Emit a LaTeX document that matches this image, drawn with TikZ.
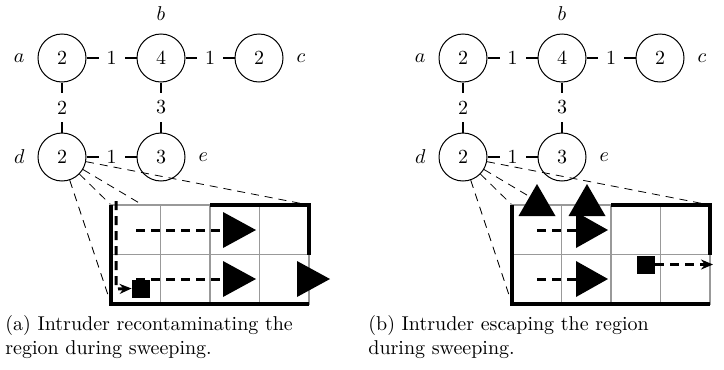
\documentclass[tikz,border=0pt]{standalone}
\usetikzlibrary{arrows.meta}
\tikzset{
  vtx/.style={circle,draw,line width=0.5pt,minimum size=24pt,inner sep=0pt},
  edgeln/.style={line width=0.8pt},
  elab/.style={fill=white,inner sep=4pt},
  celln/.style={draw=black!40,line width=0.7pt},
  wallln/.style={line width=1.6pt},
  sweepln/.style={line width=1.5pt,dash pattern=on 4.5pt off 3pt},
  zoomln/.style={line width=0.4pt,dash pattern=on 4pt off 3pt},
  tri/.style={fill=black},
  intruder/.style={fill=black,minimum size=9pt,inner sep=0pt},
  lbl/.style={label distance=3pt},
  captxt/.style={anchor=north west,inner sep=0pt},
}
\newcommand{\mygraph}[2]{%
  \begin{scope}[shift={(#2,0)}]
    \node[vtx,label={[lbl]left:$a$}]  (a#1) at (62,58)   {2};
    \node[vtx,label={[lbl]above:$b$}] (b#1) at (161,58)  {4};
    \node[vtx,label={[lbl]right:$c$}] (c#1) at (259,58)  {2};
    \node[vtx,label={[lbl]left:$d$}]  (d#1) at (62,157)  {2};
    \node[vtx,label={[lbl]right:$e$}] (e#1) at (161,157) {3};
    \draw[edgeln] (a#1) -- node[elab]{1} (b#1);
    \draw[edgeln] (b#1) -- node[elab]{1} (c#1);
    \draw[edgeln] (a#1) -- node[elab]{2} (d#1);
    \draw[edgeln] (b#1) -- node[elab]{3} (e#1);
    \draw[edgeln] (d#1) -- node[elab]{1} (e#1);
    \coordinate (tl#1) at (111,205);
    \coordinate (tr#1) at (309,205);
    \coordinate (bl#1) at (111,304);
    \coordinate (br#1) at (309,304);
    \draw[zoomln] (d#1) -- (tl#1);
    \draw[zoomln] (d#1) -- (tr#1);
    \draw[zoomln] (d#1) -- (bl#1);
    \draw[zoomln] (d#1) -- (br#1);
    \fill[white] (tl#1) rectangle (br#1);
    \foreach \xx in {160.5,210,259.5} \draw[celln] (\xx,205) -- (\xx,304);
    \draw[celln] (111,254.5) -- (309,254.5);
    \draw[celln] (tl#1) rectangle (br#1);
    \draw[wallln] (tl#1) -- (bl#1) -- (br#1);
    \draw[wallln] (210,205) -- (tr#1) -- (309,254.5);
  \end{scope}}
\begin{document}
\begin{tikzpicture}[x=0.5pt,y=-0.5pt]
  \useasboundingbox (0,0) rectangle (724,370);
  \mygraph{A}{0}
  \mygraph{B}{401}
  % panel (a)
  \draw[sweepln] (136,230) -- (223,230);
  \draw[sweepln] (136,279) -- (223,279);
  \fill[tri] (223,212) -- (256,230) -- (223,248) -- cycle;
  \fill[tri] (223,261) -- (256,279) -- (223,297) -- cycle;
  \fill[tri] (297,261) -- (330,279) -- (297,297) -- cycle;
  \node[intruder] (iA) at (141,288.5) {};
  \draw[sweepln,-{Stealth[length=6pt,width=5pt]}] (116,201) -- (116,289) -- (iA.west);
  % panel (b)
  \begin{scope}[shift={(401,0)}]
    \draw[sweepln] (136,230) -- (175,230);
    \draw[sweepln] (136,279) -- (175,279);
    \fill[tri] (175,212) -- (207,230) -- (175,248) -- cycle;
    \fill[tri] (175,261) -- (207,279) -- (175,297) -- cycle;
    \fill[tri] (117.5,216) -- (136,184) -- (154.5,216) -- cycle;
    \fill[tri] (167.5,216) -- (186,184) -- (204.5,216) -- cycle;
    \node[intruder] (iB) at (245,264.5) {};
    \draw[sweepln,-{Stealth[length=6pt,width=5pt]}] (iB.east) -- (312,264.5);
  \end{scope}
  % captions
  \node[captxt,text width=150pt] (capA) at (5,315)
    {(a) Intruder recontaminating the region during sweeping.};
  \node[captxt,text width=150pt] (capB) at (368,315)
    {(b) Intruder escaping the region during sweeping.};
\end{tikzpicture}
\end{document}
